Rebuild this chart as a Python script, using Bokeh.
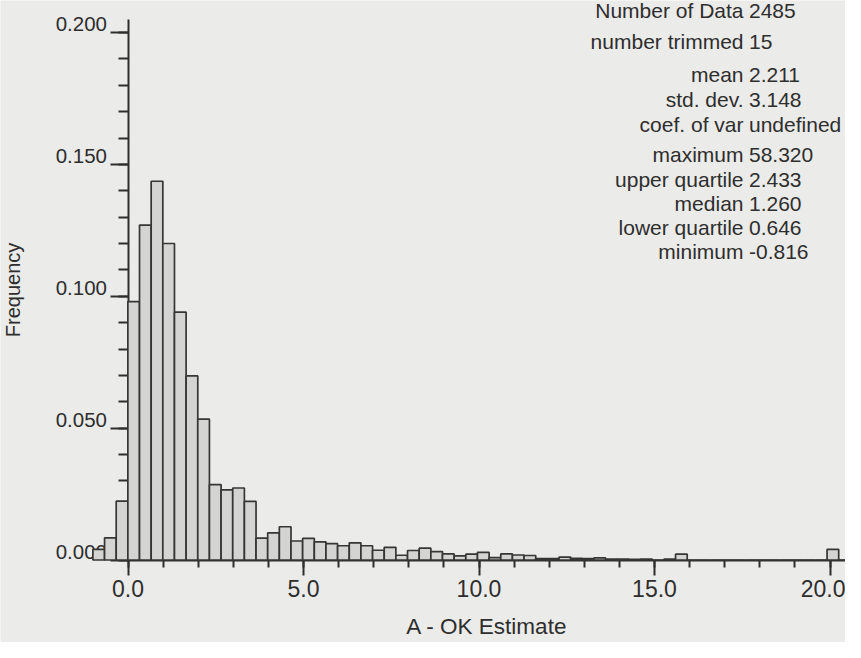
from bokeh.plotting import figure
from bokeh.models import (LinearAxis, Range1d, SingleIntervalTicker,
                          PrintfTickFormatter, ColumnDataSource)
from bokeh.core.properties import value
from bokeh.embed import file_html
from bokeh.resources import INLINE

# ---------------- data ----------------
bin_start = -1.0
bin_width = 0.332
frequency = [0.0040, 0.0084, 0.0223, 0.0980, 0.1270, 0.1436, 0.1200, 0.0940, 0.0698, 0.0534,
             0.0286, 0.0266, 0.0273, 0.0222, 0.0083, 0.0103, 0.0126, 0.0072, 0.0082, 0.0069,
             0.0062, 0.0054, 0.0065, 0.0054, 0.0037, 0.0048, 0.0018, 0.0036, 0.0045, 0.0032,
             0.0023, 0.0016, 0.0022, 0.0029, 0.0009, 0.0023, 0.0019, 0.0017, 0.0005, 0.0005,
             0.0011, 0.0006, 0.0005, 0.0008, 0.0003, 0.0003, 0.0002, 0.0003, 0.0000, 0.0003,
             0.0022, 0.0000, 0.0000, 0.0000, 0.0000, 0.0000, 0.0000, 0.0000, 0.0000, 0.0000,
             0.0000, 0.0000, 0.0000, 0.0040, 0.0000]

stat_labels = ["Number of Data", "number trimmed", "mean", "std. dev.", "coef. of var",
               "maximum", "upper quartile", "median", "lower quartile", "minimum"]
stat_values = ["2485", "15", "2.211", "3.148", "undefined",
               "58.320", "2.433", "1.260", "0.646", "-0.816"]

x_title = "A - OK Estimate"
y_title = "Frequency"

# ---------------- layout ----------------
W, H = 845, 642
MARGIN = 8
X0_PX, PX_PER_X = 135.5, 35.1       # page pixel of x = 0, pixels per unit
Y0_PX, PX_PER_Y = 567.5, 2637.5     # page pixel of y = 0, pixels per unit

def px_to_x(px):
    return (px - X0_PX) / PX_PER_X

def py_to_y(py):
    return (Y0_PX - py) / PX_PER_Y

x_start, x_end = px_to_x(MARGIN), px_to_x(MARGIN + W)
y_start, y_end = py_to_y(MARGIN + H), py_to_y(MARGIN)

LABEL_SHIFT = 8.3 / PX_PER_Y       # y tick labels sit just above their ticks

stat_rows_py = [18, 49, 82, 107, 132, 162, 187, 211, 235, 259]
stat_label_px, stat_value_px = 751, 756.5

BG = "#ebebe9"
INK = "#2e2e2e"
FONT = "Liberation Sans"

p = figure(width=W, height=H, output_backend="svg", toolbar_location=None,
           x_range=Range1d(x_start, x_end), y_range=Range1d(y_start, y_end),
           x_axis_type=None, y_axis_type=None,
           min_border=0, min_border_left=0, min_border_right=0,
           min_border_top=0, min_border_bottom=0)
p.background_fill_color = BG
p.border_fill_color = BG
p.outline_line_color = None
p.extra_y_ranges = {"lab": Range1d(y_start - LABEL_SHIFT, y_end - LABEL_SHIFT)}

# ---------------- bars ----------------
lefts = [bin_start + i * bin_width for i in range(len(frequency))]
rights = [l + bin_width for l in lefts]
src = ColumnDataSource(dict(left=lefts, right=rights, top=frequency,
                            bottom=[0.0] * len(frequency)))
bars = p.quad(left="left", right="right", top="top", bottom="bottom", source=src,
              fill_color="#d4d4d2", line_color="#363636", line_width=1.7)
bars.level = "overlay"

# ---------------- axes ----------------
xaxis = LinearAxis(fixed_location=0,
                   ticker=SingleIntervalTicker(interval=5, num_minor_ticks=5),
                   formatter=PrintfTickFormatter(format="%.1f"),
                   bounds=(0, 21.4),
                   axis_label=x_title)
xaxis.axis_line_color = INK
xaxis.axis_line_width = 2
xaxis.major_tick_line_color = INK
xaxis.major_tick_line_width = 2
xaxis.minor_tick_line_color = INK
xaxis.minor_tick_line_width = 2
xaxis.major_tick_in = 0
xaxis.major_tick_out = 15
xaxis.minor_tick_in = 0
xaxis.minor_tick_out = 7
xaxis.major_label_standoff = 5
xaxis.major_label_text_font = FONT
xaxis.major_label_text_font_size = "23px"
xaxis.major_label_text_color = INK
xaxis.axis_label_standoff = 13
xaxis.axis_label_text_font = FONT
xaxis.axis_label_text_font_size = "22.5px"
xaxis.axis_label_text_font_style = "normal"
xaxis.axis_label_text_color = INK
p.add_layout(xaxis, "below")

yticker = SingleIntervalTicker(interval=0.05, num_minor_ticks=5)
yaxis = LinearAxis(fixed_location=0, ticker=yticker,
                   formatter=PrintfTickFormatter(format="%.3f"),
                   bounds=(0, 0.205), axis_label=y_title)
yaxis.axis_line_color = INK
yaxis.axis_line_width = 2
yaxis.major_tick_line_color = INK
yaxis.major_tick_line_width = 2
yaxis.minor_tick_line_color = INK
yaxis.minor_tick_line_width = 2
yaxis.major_tick_in = 0
yaxis.major_tick_out = 18
yaxis.minor_tick_in = 0
yaxis.minor_tick_out = 10
yaxis.major_label_standoff = 3
yaxis.major_label_text_font = FONT
yaxis.major_label_text_font_size = "20px"
yaxis.major_label_text_alpha = 0
yaxis.axis_label_standoff = 87
yaxis.axis_label_text_font = FONT
yaxis.axis_label_text_font_size = "20px"
yaxis.axis_label_text_font_style = "normal"
yaxis.axis_label_text_color = INK
p.add_layout(yaxis, "left")

ylabels = LinearAxis(fixed_location=0, y_range_name="lab",
                     ticker=SingleIntervalTicker(interval=0.05, num_minor_ticks=0),
                     formatter=PrintfTickFormatter(format="%.3f"),
                     bounds=(0, 0.205))
ylabels.axis_line_color = None
ylabels.major_tick_line_color = None
ylabels.minor_tick_line_color = None
ylabels.major_tick_in = 0
ylabels.major_tick_out = 18
ylabels.major_label_standoff = 3
ylabels.major_label_text_font = FONT
ylabels.major_label_text_font_size = "20.5px"
ylabels.major_label_text_color = INK
p.add_layout(ylabels, "left")

# ---------------- summary statistics ----------------
stat_y = [py_to_y(v) for v in stat_rows_py]
p.text(x=[px_to_x(stat_label_px)] * len(stat_labels), y=stat_y, text=stat_labels,
       text_align="right", text_baseline="middle", text_font=value(FONT),
       text_font_size=value("21px"), text_color=INK)
p.text(x=[px_to_x(stat_value_px)] * len(stat_values), y=stat_y, text=stat_values,
       text_align="left", text_baseline="middle", text_font=value(FONT),
       text_font_size=value("21px"), text_color=INK)

open("out.html", "w").write(file_html(p, INLINE))
